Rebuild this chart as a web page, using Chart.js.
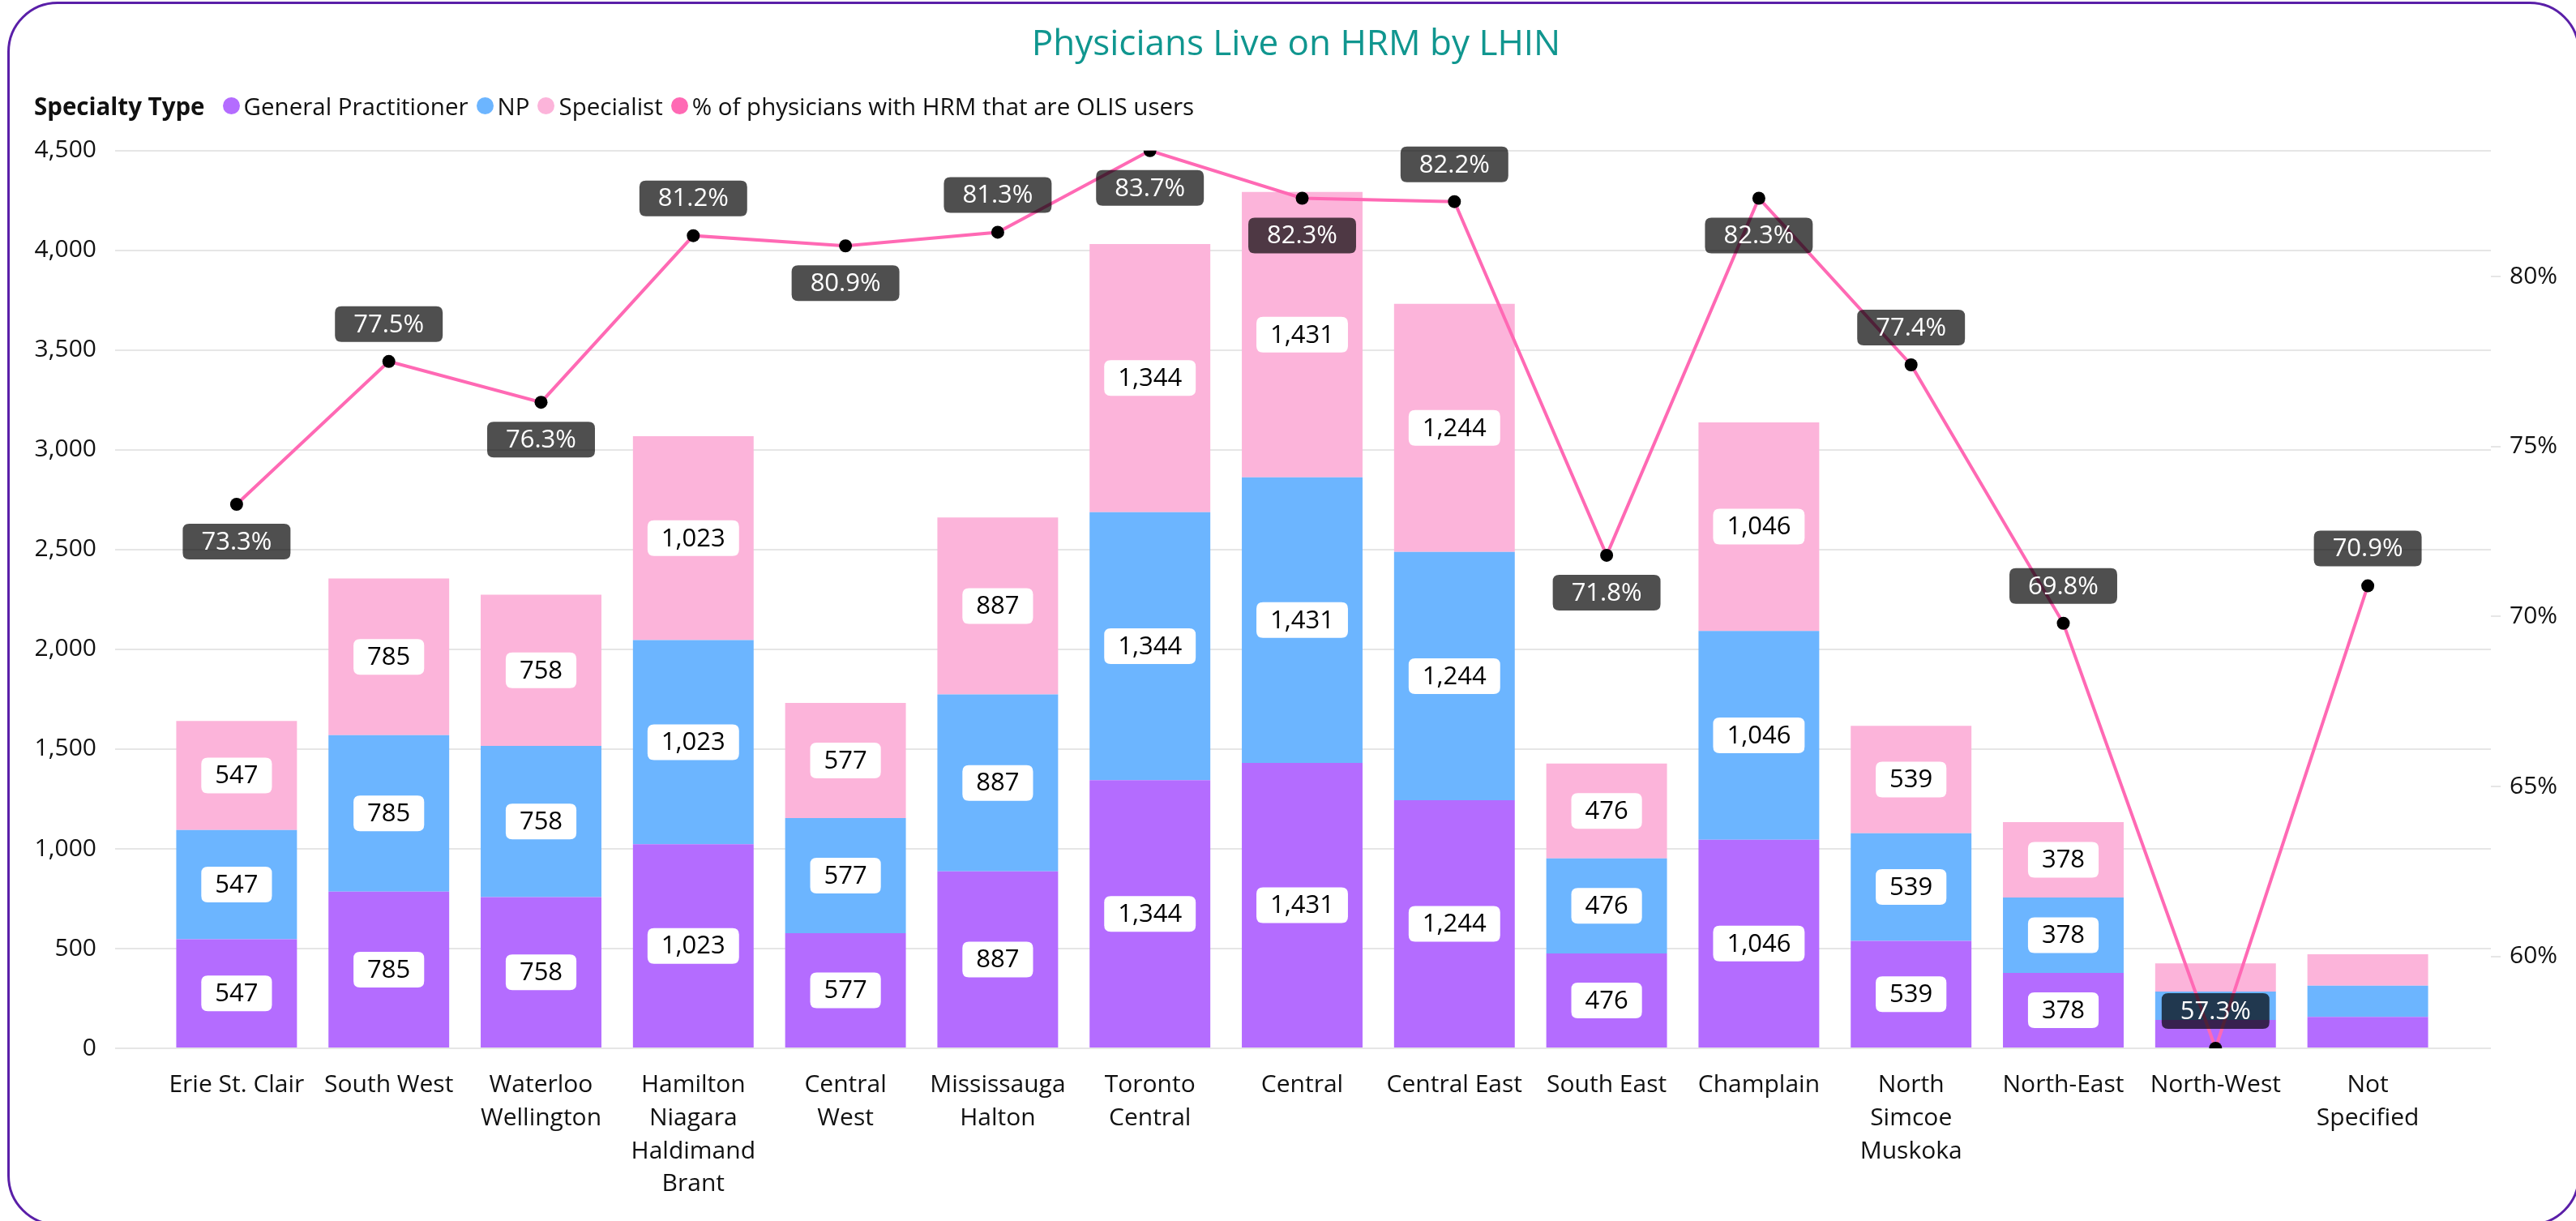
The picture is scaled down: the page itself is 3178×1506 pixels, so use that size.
<!DOCTYPE html>
<html>
<head>
<meta charset="utf-8">
<script src="https://cdn.jsdelivr.net/npm/chart.js@4.4.1/dist/chart.umd.min.js"></script>
<style>
  html, body { margin: 0; padding: 0; background: #ffffff; width: 3178px; height: 1506px; overflow: hidden; font-family: 'Open Sans', sans-serif; }
  #wrap { position: relative; width: 3178px; height: 1506px; }
  #chart { position: absolute; left: 0; top: 0; }
  #frame { position: absolute; left: 9px; top: 2px; width: 3174px; height: 1510px; box-sizing: border-box; border: 3px solid #5a1fa8; border-radius: 62px; pointer-events: none; }
  #legend { position: absolute; left: 42px; top: 110px; height: 40px; display: flex; align-items: center; font-size: 29.5px; color: #111; white-space: nowrap; }
  #legend .ttl { font-weight: 700; margin-right: 22px; }
  #legend .dot { display: inline-block; width: 21px; height: 21px; border-radius: 50%; margin-right: 5px; }
  #legend .lbl { margin-right: 10px; }
</style>
</head>
<body>
<div id="wrap">
  <canvas id="chart" width="3178" height="1506"></canvas>
  <div id="legend"></div>
  <div id="frame"></div>
</div>
<script>
// ---------- data ----------
const chartTitle = 'Physicians Live on HRM by LHIN';
const legendTitle = 'Specialty Type';
const categories = [
  ['Erie St. Clair'], ['South West'], ['Waterloo', 'Wellington'],
  ['Hamilton', 'Niagara', 'Haldimand', 'Brant'], ['Central', 'West'],
  ['Mississauga', 'Halton'], ['Toronto', 'Central'], ['Central'],
  ['Central East'], ['South East'], ['Champlain'],
  ['North', 'Simcoe', 'Muskoka'], ['North-East'], ['North-West'], ['Not', 'Specified']
];
const generalPractitioner = [547, 785, 758, 1023, 577, 887, 1344, 1431, 1244, 476, 1046, 539, 378, 142, 157];
const nursePractitioner   = [547, 785, 758, 1023, 577, 887, 1344, 1431, 1244, 476, 1046, 539, 378, 142, 157];
const specialist          = [547, 785, 758, 1023, 577, 887, 1344, 1431, 1244, 476, 1046, 539, 378, 142, 157];
const olisPercent = [73.3, 77.5, 76.3, 81.2, 80.9, 81.3, 83.7, 82.3, 82.2, 71.8, 82.3, 77.4, 69.8, 57.3, 70.9];
const leftTickMax = 4500;
const leftTickStep = 500;
const rightTickValues = [60, 65, 70, 75, 80];

// ---------- styles ----------
const seriesNames = ['General Practitioner', 'NP', 'Specialist', '% of physicians with HRM that are OLIS users'];
const seriesColors = ['#b46cff', '#6cb5ff', '#fcb4da', '#ff69b4'];
const pctLabelSide = [1, -1, 1, -1, 1, -1, 1, 1, -1, 1, 1, -1, -1, -1, -1]; // 1 below, -1 above
const gridColor = '#e6e6e6';
const textColor = '#111111';
const FONT = "'Open Sans', sans-serif";

// ---------- legend (html) ----------
const lg = document.getElementById('legend');
const t = document.createElement('span'); t.className = 'ttl'; t.textContent = legendTitle; lg.appendChild(t);
seriesNames.forEach((n, i) => {
  const d = document.createElement('span'); d.className = 'dot'; d.style.background = seriesColors[i]; lg.appendChild(d);
  const l = document.createElement('span'); l.className = 'lbl'; l.textContent = n; lg.appendChild(l);
});

function rr(ctx, x, y, w, h, r) {
  ctx.beginPath();
  ctx.moveTo(x + r, y);
  ctx.lineTo(x + w - r, y); ctx.quadraticCurveTo(x + w, y, x + w, y + r);
  ctx.lineTo(x + w, y + h - r); ctx.quadraticCurveTo(x + w, y + h, x + w - r, y + h);
  ctx.lineTo(x + r, y + h); ctx.quadraticCurveTo(x, y + h, x, y + h - r);
  ctx.lineTo(x, y + r); ctx.quadraticCurveTo(x, y, x + r, y);
  ctx.closePath();
}

const valueLabels = {
  id: 'valueLabels',
  afterDatasetsDraw(chart) {
    const ctx = chart.ctx;
    ctx.save();
    ctx.font = '31px ' + FONT;
    ctx.textAlign = 'center';
    ctx.textBaseline = 'middle';
    const boxH = 44;
    chart.data.datasets.forEach((ds, di) => {
      const meta = chart.getDatasetMeta(di);
      if (ds.type === 'line') return;
      meta.data.forEach((bar, i) => {
        const p = bar.getProps(['x', 'y', 'base'], true);
        const h = Math.abs(p.base - p.y);
        if (h < boxH + 4) return;
        const txt = ds.data[i].toLocaleString('en-US');
        const w = ctx.measureText(txt).width + 34;
        const cy = (p.y + p.base) / 2;
        rr(ctx, p.x - w / 2, cy - boxH / 2, w, boxH, 8);
        ctx.fillStyle = '#ffffff';
        ctx.fill();
        ctx.fillStyle = '#000000';
        ctx.fillText(txt, p.x, cy + 1);
      });
    });
    chart.data.datasets.forEach((ds, di) => {
      if (ds.type !== 'line') return;
      const meta = chart.getDatasetMeta(di);
      meta.data.forEach((pt, i) => {
        const p = pt.getProps(['x', 'y'], true);
        const txt = ds.data[i].toFixed(1) + '%';
        const w = ctx.measureText(txt).width + 46;
        const cy = p.y + pctLabelSide[i] * 46;
        rr(ctx, p.x - w / 2, cy - boxH / 2, w, boxH, 8);
        ctx.fillStyle = 'rgba(0,0,0,0.69)';
        ctx.fill();
        ctx.fillStyle = '#ffffff';
        ctx.fillText(txt, p.x, cy + 1);
      });
    });
    ctx.restore();
  }
};

const pctMin = Math.min(...olisPercent);
const pctMax = Math.max(...olisPercent);

new Chart(document.getElementById('chart'), {
  type: 'bar',
  data: {
    labels: categories,
    datasets: [
      { type: 'line', label: seriesNames[3], data: olisPercent, yAxisID: 'y1', borderColor: seriesColors[3], borderWidth: 4,
        pointRadius: 8, pointHoverRadius: 8, pointBackgroundColor: '#000000', pointBorderWidth: 0, tension: 0, order: 0 },
      { label: seriesNames[0], data: generalPractitioner, backgroundColor: seriesColors[0], yAxisID: 'y', stack: 's', order: 1 },
      { label: seriesNames[1], data: nursePractitioner, backgroundColor: seriesColors[1], yAxisID: 'y', stack: 's', order: 1 },
      { label: seriesNames[2], data: specialist, backgroundColor: seriesColors[2], yAxisID: 'y', stack: 's', order: 1 }
    ]
  },
  options: {
    responsive: false,
    animation: false,
    devicePixelRatio: 1,
    layout: { padding: { left: 43, right: 23, top: 0, bottom: 0 } },
    datasets: { bar: { categoryPercentage: 1, barPercentage: 0.793 } },
    plugins: {
      legend: { display: false },
      tooltip: { enabled: false },
      title: { display: true, text: chartTitle, color: '#10968f',
               font: { family: FONT, size: 44, weight: 'normal', lineHeight: 1.2 },
               padding: { top: 29, bottom: 104 } }
    },
    scales: {
      x: {
        stacked: true,
        grid: { display: false, drawTicks: false },
        border: { display: false },
        ticks: { color: textColor, font: { family: FONT, size: 30, lineHeight: 1.36 }, padding: 25, maxRotation: 0, autoSkip: false },
        afterFit(s) { s.height = 213; }
      },
      y: {
        stacked: true, position: 'left', min: 0, max: leftTickMax,
        ticks: { stepSize: leftTickStep, color: textColor, font: { family: FONT, size: 30 }, padding: 23,
                 callback: v => v.toLocaleString('en-US') },
        grid: { color: gridColor, lineWidth: 2, tickLength: 56, tickColor: gridColor },
        border: { display: false },
        afterFit(s) { s.width = 155; }
      },
      yGrid: {
        position: 'right', weight: 0, min: 0, max: leftTickMax,
        ticks: { display: false, stepSize: leftTickStep },
        grid: { drawOnChartArea: false, tickLength: 58, color: gridColor, tickColor: gridColor, lineWidth: 2 },
        border: { display: false },
        afterFit(s) { s.width = 58; }
      },
      y1: {
        position: 'right', weight: 1, min: pctMin, max: pctMax,
        ticks: { color: textColor, font: { family: FONT, size: 30 }, padding: 11, callback: v => v + '%' },
        afterBuildTicks(s) { s.ticks = rightTickValues.map(v => ({ value: v })); },
        grid: { drawOnChartArea: false, tickLength: 12, color: gridColor, tickColor: gridColor, lineWidth: 2 },
        border: { display: false },
        afterFit(s) { s.width = 82; }
      }
    }
  },
  plugins: [valueLabels]
});
</script>
</body>
</html>
